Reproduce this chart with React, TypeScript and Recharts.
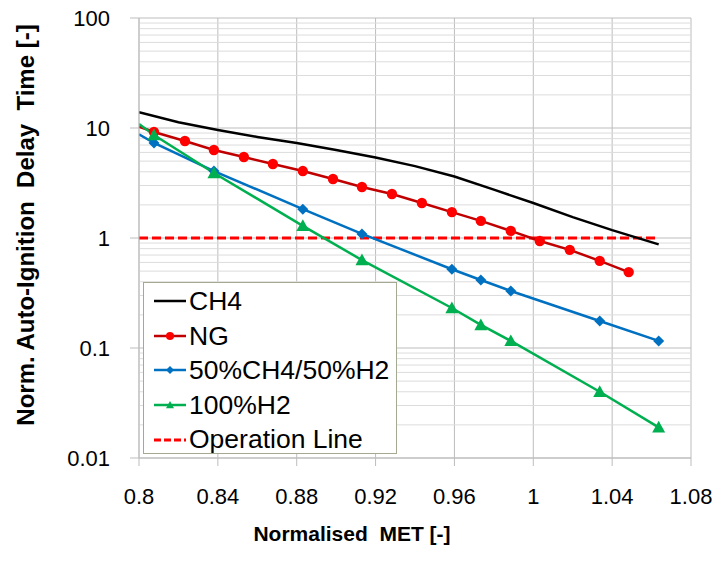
import { LineChart, Line, XAxis, YAxis, CartesianGrid, ReferenceLine } from "recharts";

// axis ticks
const xTicks = [0.8, 0.84, 0.88, 0.92, 0.96, 1, 1.04, 1.08];
const yTicks = [0.01, 0.1, 1, 10, 100];
const yMinorTicks = [
  0.02, 0.03, 0.04, 0.05, 0.06, 0.07, 0.08, 0.09,
  0.2, 0.3, 0.4, 0.5, 0.6, 0.7, 0.8, 0.9,
  2, 3, 4, 5, 6, 7, 8, 9,
  20, 30, 40, 50, 60, 70, 80, 90,
];

// CH4 (line only)
const ch4Met = [0.8, 0.82, 0.84, 0.86, 0.88, 0.9, 0.92, 0.94, 0.96, 0.98, 1.0, 1.02, 1.04, 1.0636];
const ch4Delay = [13.9, 11.3, 9.6, 8.3, 7.3, 6.3, 5.4, 4.5, 3.62, 2.75, 2.08, 1.55, 1.18, 0.876];

// NG (first point = line start at the axis, no marker)
const ngMet = [0.8, 0.8076, 0.8233, 0.838, 0.8532, 0.8679, 0.8831, 0.8984, 0.9131, 0.9283, 0.9435, 0.9587, 0.9734, 0.9886, 1.0033, 1.0185, 1.0337, 1.0484];
const ngDelay = [10.3, 9.19, 7.62, 6.31, 5.45, 4.71, 4.06, 3.44, 2.91, 2.51, 2.08, 1.72, 1.43, 1.16, 0.94, 0.78, 0.62, 0.49];

// 50%CH4/50%H2
const mixMet = [0.8, 0.8076, 0.838, 0.8831, 0.9131, 0.9587, 0.9734, 0.9886, 1.0337, 1.0636];
const mixDelay = [8.76, 7.31, 4.06, 1.83, 1.09, 0.52, 0.415, 0.33, 0.176, 0.116];

// 100%H2
const h2Met = [0.8, 0.8076, 0.838, 0.8831, 0.9131, 0.9587, 0.9734, 0.9886, 1.0337, 1.0636];
const h2Delay = [10.9, 8.64, 3.9, 1.29, 0.63, 0.231, 0.162, 0.116, 0.04, 0.019];

// operation line
const opMet = [0.8, 1.0636];
const opDelay = [1, 1];

const toPoints = (xs: number[], ys: number[]) =>
  xs.map((met, i) => ({ met, delay: ys[i] }));

const FONT = '"Liberation Sans", Arial, sans-serif';

type Shape = "circle" | "diamond" | "triangle";

function marker(shape: Shape, cx: number, cy: number, fill: string, s: number, key?: string) {
  if (shape === "circle") return <circle key={key} cx={cx} cy={cy} r={s} fill={fill} />;
  if (shape === "diamond")
    return (
      <polygon
        key={key}
        points={`${cx},${cy - s} ${cx + s},${cy} ${cx},${cy + s} ${cx - s},${cy}`}
        fill={fill}
      />
    );
  return (
    <polygon
      key={key}
      points={`${cx},${cy - s} ${cx + s},${cy + s * 0.8} ${cx - s},${cy + s * 0.8}`}
      fill={fill}
    />
  );
}

const makeDot = (shape: Shape, fill: string, s: number) => (props: any) => {
  const { cx, cy, index } = props;
  if (index === 0 || cx == null || cy == null) return <g key={`d-${index}`} />;
  return marker(shape, cx, cy, fill, s, `d-${index}`);
};

const legendItems = [
  { name: "CH4", color: "#000000", shape: null as Shape | null, dash: false },
  { name: "NG", color: "#c00000", shape: "circle" as Shape, dash: false, mark: "#ff0000" },
  { name: "50%CH4/50%H2", color: "#0070c0", shape: "diamond" as Shape, dash: false, mark: "#0070c0" },
  { name: "100%H2", color: "#00b050", shape: "triangle" as Shape, dash: false, mark: "#00b050" },
  { name: "Operation Line", color: "#ff0000", shape: null as Shape | null, dash: true },
];

function ChartLegend() {
  return (
    <div
      style={{
        position: "absolute",
        left: 143,
        top: 282,
        width: 254,
        height: 172,
        border: "1px solid #a4aa92",
        background: "#fff",
        fontFamily: FONT,
        fontSize: 26.5,
        boxSizing: "border-box",
        paddingTop: 1,
      }}
    >
      {legendItems.map((it) => (
        <div key={it.name} style={{ display: "flex", alignItems: "center", height: 34.6 }}>
          <svg width={40} height={20} style={{ marginLeft: 8 }}>
            <line
              x1={2}
              y1={10}
              x2={34}
              y2={10}
              stroke={it.color}
              strokeWidth={it.dash ? 3 : 2.5}
              strokeDasharray={it.dash ? "7 3" : undefined}
            />
            {it.shape && marker(it.shape, 18, 10, it.mark as string, 4)}
          </svg>
          <span style={{ marginLeft: -3, lineHeight: 1 }}>{it.name}</span>
        </div>
      ))}
    </div>
  );
}

export default function App() {
  return (
    <div style={{ position: "absolute", left: 0, top: 0, width: 725, height: 567, background: "#fff" }}>
      <LineChart
        width={725}
        height={567}
        margin={{ top: 18, right: 34, left: 0, bottom: 9 }}
        style={{ fontFamily: FONT }}
      >
        {yMinorTicks.map((v) => (
          <ReferenceLine key={v} y={v} stroke="#dcdcdc" strokeWidth={1} />
        ))}
        <CartesianGrid stroke="#bdbdbd" strokeWidth={1} />
        <XAxis
          dataKey="met"
          type="number"
          domain={[0.8, 1.08]}
          ticks={xTicks}
          allowDataOverflow
          height={100}
          stroke="#bdbdbd"
          tickSize={8}
          tickMargin={22}
          tick={{ fill: "#000", fontSize: 22, fontFamily: FONT }}
          label={{
            value: "Normalised\u00a0 MET [-]",
            position: "insideBottom",
            offset: 17,
            dx: -63,
            fill: "#000",
            fontSize: 21,
            fontWeight: "bold",
            fontFamily: FONT,
          }}
        />
        <YAxis
          dataKey="delay"
          type="number"
          scale="log"
          domain={[0.01, 100]}
          ticks={yTicks}
          allowDataOverflow
          width={139}
          stroke="#bdbdbd"
          tickSize={9}
          tickMargin={20}
          tick={{ fill: "#000", fontSize: 22, fontFamily: FONT }}
          label={{
            value: "Norm. Auto-Ignition\u00a0 Delay\u00a0 Time [-]",
            angle: -90,
            position: "center",
            dx: -44,
            dy: -13,
            fill: "#000",
            fontSize: 24,
            fontWeight: "bold",
            fontFamily: FONT,
          }}
        />
        <Line
          data={toPoints(opMet, opDelay)}
          dataKey="delay"
          stroke="#ff0000"
          strokeWidth={3}
          strokeDasharray="9 4"
          dot={false}
          isAnimationActive={false}
        />
        <Line
          data={toPoints(ch4Met, ch4Delay)}
          dataKey="delay"
          type="linear"
          stroke="#000000"
          strokeWidth={2.5}
          dot={false}
          isAnimationActive={false}
        />
        <Line
          data={toPoints(ngMet, ngDelay)}
          dataKey="delay"
          stroke="#c00000"
          strokeWidth={2.5}
          dot={makeDot("circle", "#ff0000", 5.2)}
          isAnimationActive={false}
        />
        <Line
          data={toPoints(mixMet, mixDelay)}
          dataKey="delay"
          stroke="#0070c0"
          strokeWidth={2.5}
          dot={makeDot("diamond", "#0070c0", 5.5)}
          isAnimationActive={false}
        />
        <Line
          data={toPoints(h2Met, h2Delay)}
          dataKey="delay"
          stroke="#00b050"
          strokeWidth={2.5}
          dot={makeDot("triangle", "#00b050", 6.5)}
          isAnimationActive={false}
        />
      </LineChart>
      <ChartLegend />
    </div>
  );
}
